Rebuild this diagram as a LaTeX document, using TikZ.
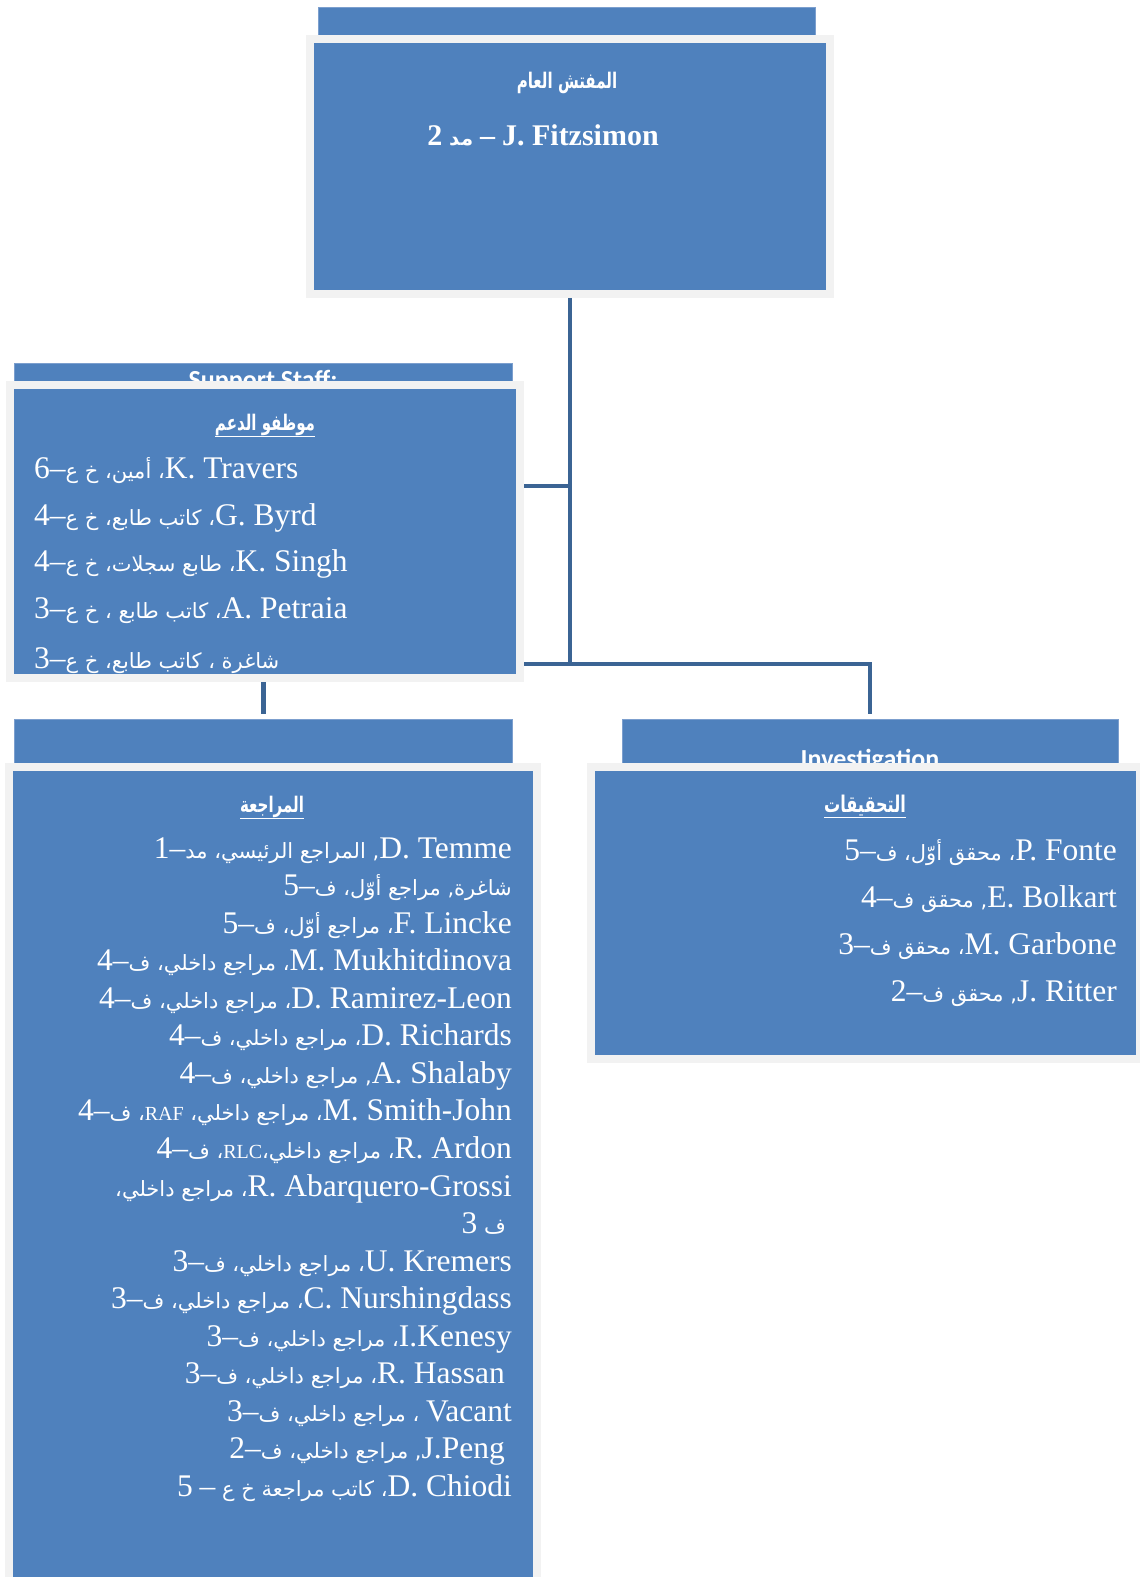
\documentclass[tikz,border=0pt]{standalone}
\usepackage{fontspec}
\setmainfont{Liberation Serif}
\newfontfamily\latinfont{Liberation Serif}
\newfontfamily\arabicfont[Script=Arabic]{DejaVu Sans}
\newfontfamily\arabichead[Script=Arabic, FakeStretch=0.7]{DejaVu Sans}
\newfontfamily\hdrfont{Carlito}
\usepackage{tikz}
\usetikzlibrary{backgrounds}
\TeXXeTstate=1

\definecolor{boxblue}{HTML}{4F81BD}
\definecolor{framegray}{HTML}{F2F2F2}
\definecolor{linkblue}{HTML}{3B6494}
\definecolor{hdredge}{HTML}{7C9FCE}

% latin run inside right-to-left text
\newcommand\lat[2][31.5]{{\latinfont\fontsize{#1}{#1}\selectfont\beginL #2\endL}}
\newcommand\grade[1]{\lat{–}\lat{#1}}

\begin{document}
\begin{tikzpicture}[
  x=1pt, y=-1pt,
  hdr/.style={rectangle, fill=boxblue, draw=hdredge, line width=1pt, inner sep=0pt},
  unitbox/.style={rectangle, fill=boxblue, draw=framegray, line width=8pt, inner sep=0pt, outer sep=0pt},
  hdrtext/.style={anchor=base, text=white, inner sep=0pt, font=\hdrfont\bfseries\fontsize{26}{30}\selectfont},
  title/.style={anchor=base, text=white, inner sep=0pt, font=\arabichead\bfseries\fontsize{21.5}{25}\selectfont},
  entry/.style={text=white, inner sep=0pt, font=\arabicfont\fontsize{21}{25}\selectfont},
  link/.style={draw=linkblue, line width=4.5pt}
]
  \useasboundingbox (0,0) rectangle (1140,1577);

  % header strips (mostly hidden behind the boxes)
  \node[hdr, minimum width=497, minimum height=28] (chiefhdr) at (566.5,21) {};
  \node[hdr, minimum width=498, minimum height=44] (suphdr) at (263,385) {};
  \node[hdr, minimum width=497.5, minimum height=44] (audhdr) at (263.25,741) {};
  \node[hdr, minimum width=496, minimum height=44] (invhdr) at (870,741) {};
  \node[hdrtext] (suphdrtext) at (263,388) {Support Staff:};
  \node[hdrtext] (invhdrtext) at (870,767) {Investigation};

  % boxes
  \node[unitbox, minimum width=520, minimum height=255] (chief) at (570,166.5) {};
  \node[unitbox, minimum width=510, minimum height=292.5] (support) at (265,531.25) {};
  \node[unitbox, minimum width=527.5, minimum height=853] (audit) at (272.75,1193.5) {};
  \node[unitbox, minimum width=549, minimum height=291.5] (invest) at (865.5,912.75) {};

  % inspector general
  \node[title] (chieftitle) at (567,88) {\beginR المفتش العام\endR};
  \node[title, font=\arabicfont\bfseries\fontsize{20}{24}\selectfont] (chiefname) at (543,145) {\beginR\lat[30]{J. Fitzsimon} \lat[30]{–} مد \lat[30]{2}\endR};

  % support staff
  \node[title] (suptitle) at (265,430) {\underline{\beginR موظفو الدعم\endR}};
  \begin{scope}
    \clip ([shift={(4,4)}]support.north west) rectangle ([shift={(-4,-4)}]support.south east);
    \node[entry, anchor=base west] (sup1) at (34,478) {\beginR\lat{K. Travers}، أمين، خ ع\grade{6}\endR};
    \node[entry, anchor=base west] (sup2) at (34,525) {\beginR\lat{G. Byrd}، كاتب طابع، خ ع\grade{4}\endR};
    \node[entry, anchor=base west] (sup3) at (34,571) {\beginR\lat{K. Singh}، طابع سجلات، خ ع\grade{4}\endR};
    \node[entry, anchor=base west] (sup4) at (34,618) {\beginR\lat{A. Petraia}، كاتب طابع ، خ ع\grade{3}\endR};
    \node[entry, anchor=base west] (sup5) at (34,668) {\beginR شاغرة ، كاتب طابع، خ ع\grade{3}\endR};
  \end{scope}

  % audit
  \node[title] (audtitle) at (272,812) {\underline{\beginR المراجعة\endR}};
  \node[entry, anchor=base east] (aud1) at (512,858) {\beginR\lat{D. Temme}, المراجع الرئيسي، مد\grade{1}\endR};
  \node[entry, anchor=base east] (aud2) at (512,895.5) {\beginR شاغرة, مراجع أوّل، ف\grade{5}\endR};
  \node[entry, anchor=base east] (aud3) at (512,933.1) {\beginR\lat{F. Lincke}، مراجع أوّل، ف\grade{5}\endR};
  \node[entry, anchor=base east] (aud4) at (512,970.6) {\beginR\lat{M. Mukhitdinova}، مراجع داخلي، ف\grade{4}\endR};
  \node[entry, anchor=base east] (aud5) at (512,1008.2) {\beginR\lat{D. Ramirez-Leon}، مراجع داخلي، ف\grade{4}\endR};
  \node[entry, anchor=base east] (aud6) at (512,1045.8) {\beginR\lat{D. Richards}، مراجع داخلي، ف\grade{4}\endR};
  \node[entry, anchor=base east] (aud7) at (512,1083.3) {\beginR\lat{A. Shalaby}, مراجع داخلي، ف\grade{4}\endR};
  \node[entry, anchor=base east] (aud8) at (512,1120.9) {\beginR\lat{M. Smith-John}، مراجع داخلي، \lat[20]{RAF}، ف\grade{4}\endR};
  \node[entry, anchor=base east] (aud9) at (512,1158.4) {\beginR\lat{R. Ardon}، مراجع داخلي،\lat[20]{RLC}، ف\grade{4}\endR};
  \node[entry, anchor=base east] (aud10) at (512,1196) {\beginR\lat{R. Abarquero-Grossi}، مراجع داخلي،\endR};
  \node[entry, anchor=base east] (aud11) at (506,1233.5) {\beginR ف \lat{3}\endR};
  \node[entry, anchor=base east] (aud12) at (512,1271.1) {\beginR\lat{U. Kremers}، مراجع داخلي، ف\grade{3}\endR};
  \node[entry, anchor=base east] (aud13) at (512,1308.6) {\beginR\lat{C. Nurshingdass}، مراجع داخلي، ف\grade{3}\endR};
  \node[entry, anchor=base east] (aud14) at (512,1346.2) {\beginR\lat{I.Kenesy}، مراجع داخلي، ف\grade{3}\endR};
  \node[entry, anchor=base east] (aud15) at (505,1383.7) {\beginR\lat{R. Hassan}، مراجع داخلي، ف\grade{3}\endR};
  \node[entry, anchor=base east] (aud16) at (512,1421.3) {\beginR\lat{Vacant} ، مراجع داخلي، ف\grade{3}\endR};
  \node[entry, anchor=base east] (aud17) at (505,1458.8) {\beginR\lat{J.Peng}, مراجع داخلي، ف\grade{2}\endR};
  \node[entry, anchor=base east] (aud18) at (512,1496.4) {\beginR\lat{D. Chiodi}، كاتب مراجعة خ ع \lat{–} \lat{5}\endR};

  % investigation
  \node[title, font=\arabichead\bfseries\fontsize{23}{26}\selectfont] (invtitle) at (865,812) {\underline{\beginR التحقيقات\endR}};
  \node[entry, anchor=base east] (inv1) at (1117,860) {\beginR\lat{P. Fonte}، محقق أوّل، ف\grade{5}\endR};
  \node[entry, anchor=base east] (inv2) at (1117,907) {\beginR\lat{E. Bolkart}, محقق ف\grade{4}\endR};
  \node[entry, anchor=base east] (inv3) at (1117,954) {\beginR\lat{M. Garbone}، محقق ف\grade{3}\endR};
  \node[entry, anchor=base east] (inv4) at (1117,1001) {\beginR\lat{J. Ritter}, محقق ف\grade{2}\endR};

  % connectors
  \begin{scope}[on background layer]
    \coordinate (hub) at (chief.south |- 0,664);
    \coordinate (suptap) at (chief.south |- 0,486);
    \draw[link] (chief.south) -- (hub);
    \draw[link] (suptap) -- (suptap -| support.east);
    \draw[link, shorten >=5pt] (hub) -| (audhdr.north);
    \draw[link, shorten >=5pt] (hub) -| (invhdr.north);
  \end{scope}
\end{tikzpicture}
\end{document}
